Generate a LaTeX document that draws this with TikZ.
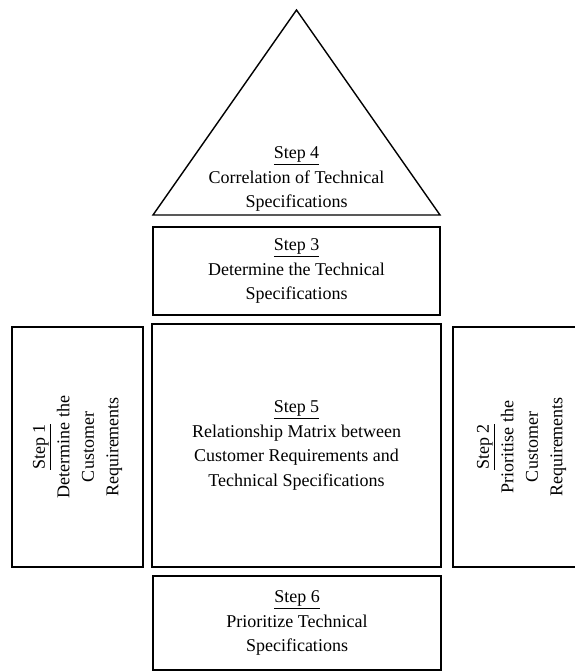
\documentclass[tikz,border=0pt]{standalone}
\usepackage{fontspec}
\setmainfont{Liberation Serif}
\tikzset{
  stepbox/.style={draw, line width=1.4pt, rectangle, inner sep=0pt, align=center,
    font=\fontsize{18}{24.5}\selectfont},
  steptext/.style={align=center, inner sep=0pt, font=\fontsize{18}{24.5}\selectfont}
}
\begin{document}
\begin{tikzpicture}[x=1pt,y=-1pt]
  \useasboundingbox (0,0) rectangle (574,671);
  % roof
  \coordinate (apex) at (296.5,10);
  \coordinate (baseL) at (153,215);
  \coordinate (baseR) at (440,215);
  \draw[line width=1.4pt, line join=miter] (apex) -- (baseL) -- (baseR) -- cycle;
  \node[steptext] (s4) at (296.5,179) {\underline{Step 4}\\Correlation of Technical\\Specifications};
  % boxes
  \node[stepbox, minimum width=287pt, minimum height=88pt] (s3) at (296.5,271)
    {\underline{Step 3}\\Determine the Technical\\Specifications};
  \node[stepbox, minimum width=289pt, minimum height=243pt] (s5) at (296.5,445.5)
    {\underline{Step 5}\\Relationship Matrix between\\Customer Requirements and\\Technical Specifications};
  \node[stepbox, minimum width=131pt, minimum height=240pt] (s1) at (77.5,447) {};
  \node[steptext, rotate=90] at (s1.center) {\underline{Step 1}\\Determine the\\Customer\\Requirements};
  \node[stepbox, minimum width=137pt, minimum height=240pt] (s2) at (521.5,447) {};
  \node[steptext, rotate=90] at (s2.center) {\underline{Step 2}\\Prioritise the\\Customer\\Requirements};
  \node[stepbox, minimum width=288pt, minimum height=94pt] (s6) at (297,623)
    {\underline{Step 6}\\Prioritize Technical\\Specifications};
\end{tikzpicture}
\end{document}
